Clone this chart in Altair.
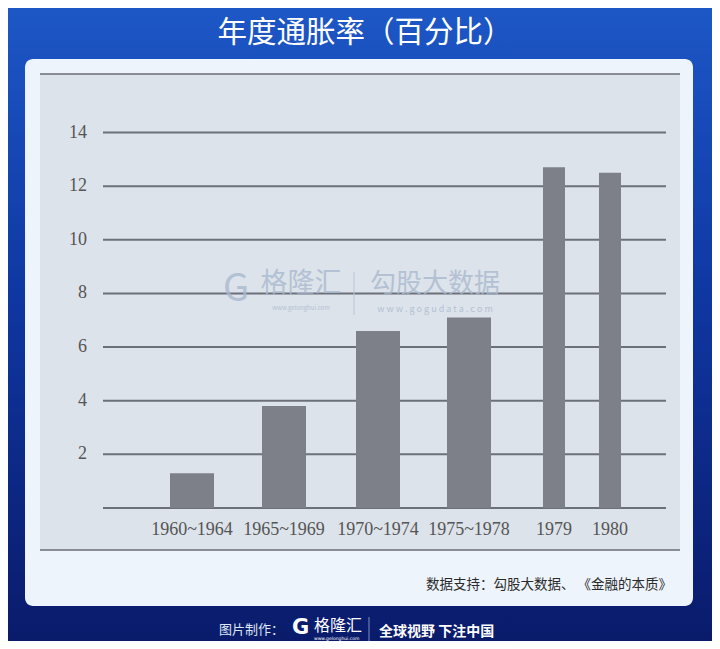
import altair as alt
import pandas as pd

# ---- data ----
categories = ["1960~1964", "1965~1969", "1970~1974", "1975~1978", "1979", "1980"]
values = [1.3, 3.8, 6.6, 7.1, 12.7, 12.5]
y_ticks = [0, 2, 4, 6, 8, 10, 12, 14]

# ---- layout (bar centres / widths in x-axis units) ----
bar_pos = [89, 181, 275, 366, 451, 507]
bar_width = [44, 44, 44, 44, 22, 22]

W, H = 704, 633
xs = alt.Scale(domain=[0, 563], range=[95, 658])
ys = alt.Scale(domain=[0, 14], range=[500, 124.5])

bars_df = pd.DataFrame({"cat": categories, "value": values, "pos": bar_pos, "w": bar_width})
ticks_df = pd.DataFrame({"tick": y_ticks})
one = pd.DataFrame({"k": [0]})

CJK = "Noto Sans CJK SC"
SERIF = "Liberation Serif"

bg = alt.Chart(one).mark_rect(
    color=alt.LinearGradient(
        gradient="linear", x1=0, x2=0, y1=0, y2=1,
        stops=[alt.GradientStop(color="#1d57c6", offset=0),
               alt.GradientStop(color="#0f37a2", offset=0.45),
               alt.GradientStop(color="#0a1b6b", offset=1)]),
).encode(x=alt.value(0), x2=alt.value(W), y=alt.value(0), y2=alt.value(H))

panel = alt.Chart(one).mark_rect(color="#eef4fb", cornerRadius=8).encode(
    x=alt.value(17), x2=alt.value(685), y=alt.value(51), y2=alt.value(598))

plotbg = alt.Chart(one).mark_rect(color="#dde3ea").encode(
    x=alt.value(32), x2=alt.value(672), y=alt.value(66), y2=alt.value(542))

border_top = alt.Chart(one).mark_rule(color="#6a6d73", strokeWidth=1.5).encode(
    x=alt.value(32), x2=alt.value(672), y=alt.value(66))
border_bot = alt.Chart(one).mark_rule(color="#6a6d73", strokeWidth=1.5).encode(
    x=alt.value(32), x2=alt.value(672), y=alt.value(542))

grid = alt.Chart(ticks_df).mark_rule(color="#6c7078", strokeWidth=2).encode(
    y=alt.Y("tick:Q", scale=ys, axis=None),
    x=alt.value(95), x2=alt.value(658))

ylabels = alt.Chart(ticks_df).transform_filter("datum.tick > 0").mark_text(
    align="right", baseline="middle", font=SERIF, fontSize=18, color="#555555"
).encode(y=alt.Y("tick:Q", scale=ys, axis=None), x=alt.value(79), text="tick:Q")

bars = alt.Chart(bars_df).transform_calculate(
    x0="datum.pos - datum.w / 2", x1="datum.pos + datum.w / 2"
).mark_bar(color="#7d8089").encode(
    x=alt.X("x0:Q", scale=xs, axis=None), x2="x1:Q",
    y=alt.Y("value:Q", scale=ys, axis=None), y2=alt.datum(0))

xlabels = alt.Chart(bars_df).mark_text(
    align="center", baseline="middle", font=SERIF, fontSize=18, color="#555555"
).encode(x=alt.X("pos:Q", scale=xs, axis=None), y=alt.value(522), text="cat:N")

# watermark
wm_df = pd.DataFrame({
    "t": ["G", "格隆汇", "www.gelonghui.com", "勾股大数据", "w w w . g o g u d a t a . c o m"],
    "px": [228, 293, 293, 427, 427],
    "py": [282, 276, 300, 276, 301],
    "fs": [38, 27, 6, 26, 9],
})
wm = alt.Chart(wm_df).mark_text(
    align="center", baseline="middle", font=CJK, color="#a9b9cf", opacity=0.8
).encode(x=alt.X("px:Q", scale=None), y=alt.Y("py:Q", scale=None), text="t:N",
         size=alt.Size("fs:Q", scale=None, legend=None))
wm_div = alt.Chart(one).mark_rule(color="#b8c4d4", strokeWidth=1).encode(
    x=alt.value(346), y=alt.value(264), y2=alt.value(307))

title = alt.Chart(one).mark_text(
    text="年度通胀率（百分比）", font=CJK, fontSize=29.5, color="#ffffff",
    align="center", baseline="middle", fontWeight="normal"
).encode(x=alt.value(357), y=alt.value(25))

source = alt.Chart(one).mark_text(
    text="数据支持：勾股大数据、 《金融的本质》", font=CJK, fontSize=13.5, color="#2b2b2b",
    align="right", baseline="middle"
).encode(x=alt.value(664), y=alt.value(577))

foot1 = alt.Chart(one).mark_text(
    text="图片制作：", font=CJK, fontSize=13, color="#dfe6f5", align="left", baseline="middle"
).encode(x=alt.value(211), y=alt.value(622))
logo_g = alt.Chart(one).mark_text(
    text="G", font="DejaVu Sans", fontSize=21, fontWeight="bold", color="#ffffff",
    align="left", baseline="middle"
).encode(x=alt.value(284), y=alt.value(620))
logo_t = alt.Chart(one).mark_text(
    text="格隆汇", font=CJK, fontSize=16, color="#ffffff", align="left", baseline="middle"
).encode(x=alt.value(306), y=alt.value(618))
logo_u = alt.Chart(one).mark_text(
    text="www.gelonghui.com", font="DejaVu Sans", fontSize=4.5, color="#ffffff",
    align="left", baseline="middle"
).encode(x=alt.value(306), y=alt.value(631))
foot_div = alt.Chart(one).mark_rule(color="#8090c0", strokeWidth=1).encode(
    x=alt.value(361), y=alt.value(609), y2=alt.value(635))
foot2 = alt.Chart(one).mark_text(
    text="全球视野 下注中国", font=CJK, fontSize=14, fontWeight="bold", color="#ffffff",
    align="left", baseline="middle"
).encode(x=alt.value(371), y=alt.value(624))

chart = alt.layer(
    bg, panel, plotbg, border_top, border_bot, grid, wm, wm_div, bars, ylabels, xlabels,
    title, source, foot1, logo_g, logo_t, logo_u, foot_div, foot2
).properties(
    width=W, height=H, autosize=alt.AutoSizeParams(type="none"), padding=0
).configure_view(strokeWidth=0)

chart.save("out.html", embed_options={"renderer": "svg", "actions": False})
